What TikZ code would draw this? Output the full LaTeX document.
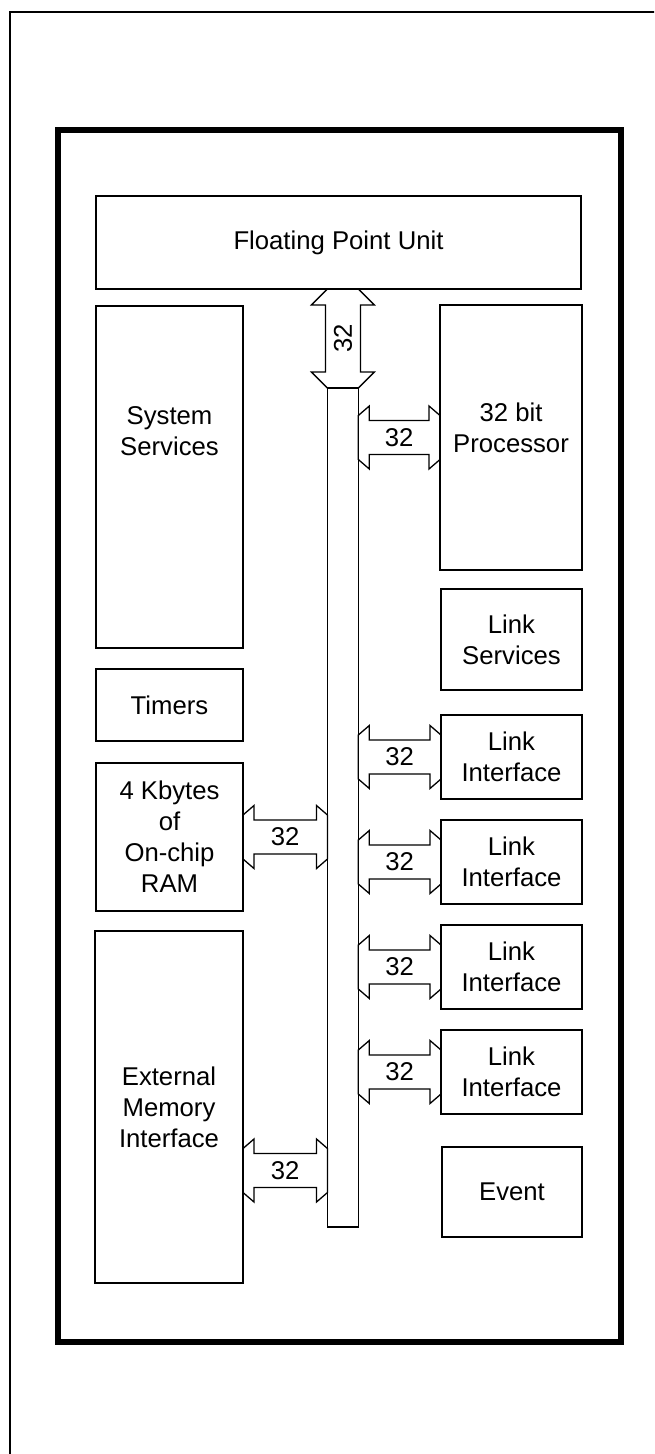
\documentclass[tikz,border=0pt]{standalone}
\usepackage{fontspec}
\setmainfont{Liberation Sans}
\usetikzlibrary{positioning, calc}
\tikzset{
  unitbox/.style={
    rectangle, draw=black, line width=1.8pt, fill=white,
    outer sep=0pt, inner sep=0pt, align=center, anchor=north west,
    font=\fontsize{25.7pt}{31pt}\selectfont,
  },
  busbar/.style={rectangle, draw=black, line width=1.6pt, fill=white,
    outer sep=0pt, inner sep=0pt, anchor=north west},
  busarrow/.style={draw=black, line width=1.3pt, line join=miter},
  buslabel/.style={font=\fontsize{25.7pt}{31pt}\selectfont, inner sep=0pt},
}
% horizontal 32 bit path: left end, right end, label name, label text
\newcommand{\hbus}[4]{%
  \draw[busarrow] let \p1=(#1), \p2=(#2) in
    (\x1,\y1-22pt) -- (\x1+11pt,\y1-31.5pt) -- (\x1+11pt,\y1-17pt)
    -- (\x2-11pt,\y1-17pt) -- (\x2-11pt,\y1-31.5pt) -- (\x2,\y1-22pt)
    -- (\x2,\y1+22pt) -- (\x2-11pt,\y1+31.5pt) -- (\x2-11pt,\y1+17pt)
    -- (\x1+11pt,\y1+17pt) -- (\x1+11pt,\y1+31.5pt) -- (\x1,\y1+22pt) -- cycle;
  \path (#1) -- (#2) node[midway, buslabel] (#3) {#4};
}
% vertical 32 bit path: top end, bottom end, label name, label text
\newcommand{\vbus}[4]{%
  \draw[busarrow] let \p1=(#1), \p2=(#2) in
    (\x1-15.5pt,\y1) -- (\x1-31.5pt,\y1-16pt) -- (\x1-17.5pt,\y1-16pt)
    -- (\x1-17.5pt,\y2+16pt) -- (\x1-31.5pt,\y2+16pt) -- (\x1-15.5pt,\y2)
    -- (\x1+15.5pt,\y2) -- (\x1+31.5pt,\y2+16pt) -- (\x1+17.5pt,\y2+16pt)
    -- (\x1+17.5pt,\y1-16pt) -- (\x1+31.5pt,\y1-16pt) -- (\x1+15.5pt,\y1) -- cycle;
  \path (#1) -- (#2) node[midway, buslabel, rotate=90] (#3) {#4};
}

\begin{document}
\begin{tikzpicture}[x=1pt, y=-1pt]
  \useasboundingbox (0,0) rectangle (654,1454);
  \clip (0,0) rectangle (654,1454);

  % frames
  \draw[line width=2pt] (9.5,11.5) rectangle (700,1500);
  \draw[line width=6pt] (58,130) rectangle (621,1342);

  % left column
  \node[unitbox, minimum width=485pt, minimum height=93pt] (fpu) at (96,196) {Floating Point Unit};
  \node[unitbox, minimum width=147pt, minimum height=342pt] (sys) at (96,306) {};
  \node[buslabel, align=center] (systxt) at ([yshift=46pt]sys.center) {System\\Services};
  \node[unitbox, minimum width=147pt, minimum height=72pt] (tim) at (96,669) {Timers};
  \node[unitbox, minimum width=147pt, minimum height=148pt] (ram) at (96,763) {4 Kbytes\\of\\On-chip\\RAM};
  \node[unitbox, minimum width=148pt, minimum height=352pt] (emi) at (95,931) {External\\Memory\\Interface};

  % the bus
  \node[busbar, minimum width=30.8pt, minimum height=839pt] (bus) at (327.5,388) {};

  % right column
  \node[unitbox, minimum width=142pt, minimum height=265pt, text depth=19pt] (cpu) at (440,305) {32 bit\\Processor};
  \node[unitbox, minimum width=141pt, minimum height=101pt] (lsv) at (441,589) {Link\\Services};
  \foreach \k in {1,...,4}
    \node[unitbox, minimum width=141pt, minimum height=84pt] (lif\k) at (441,610+105*\k) {Link\\Interface};
  \node[unitbox, minimum width=140pt, minimum height=90pt] (evt) at (442,1147) {Event};

  % 32 bit paths
  \coordinate (emiport) at ([yshift=-63.5pt]emi.east);
  \vbus{bus.north |- fpu.south}{bus.north}{w0}{32}
  \hbus{bus.east |- cpu.west}{cpu.west}{w1}{32}
  \hbus{ram.east}{bus.west |- ram.east}{w2}{32}
  \hbus{emiport}{bus.west |- emiport}{w3}{32}
  \foreach \k in {1,...,4}{
    \hbus{bus.east |- lif\k.west}{lif\k.west}{wl\k}{32}
  }

\end{tikzpicture}
\end{document}
